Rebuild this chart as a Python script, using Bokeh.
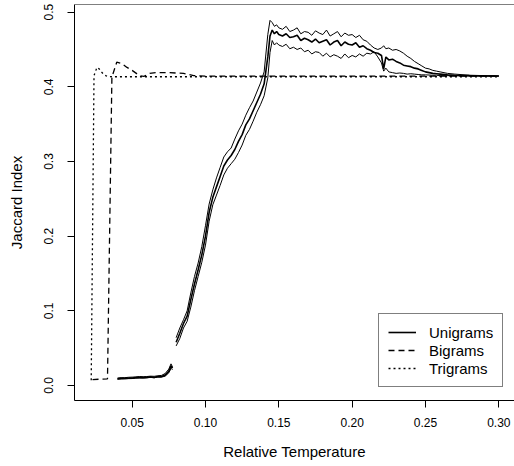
from bokeh.plotting import figure
from bokeh.models import Range1d, FixedTicker, NumeralTickFormatter, Span, Legend, LegendItem
from bokeh.embed import file_html
from bokeh.resources import INLINE

# ---------------- data ----------------
x_ticks = [0.05, 0.10, 0.15, 0.20, 0.25, 0.30]
y_ticks = [0.0, 0.1, 0.2, 0.3, 0.4, 0.5]

# Unigrams, low-temperature segment
uni1_x = [0.040, 0.0425, 0.045, 0.0475, 0.050, 0.0525, 0.055, 0.0575, 0.060,
          0.0625, 0.065, 0.0675, 0.070, 0.0725, 0.075, 0.0765, 0.0775]
uni1_mid = [0.009, 0.0095, 0.0095, 0.010, 0.010, 0.0105, 0.011, 0.0105, 0.011,
            0.0115, 0.011, 0.012, 0.012, 0.014, 0.019, 0.026, 0.023]
uni1_up = [0.0100, 0.0105, 0.0105, 0.011, 0.0112, 0.0115, 0.012, 0.0118, 0.012,
           0.0125, 0.0123, 0.013, 0.0135, 0.016, 0.022, 0.029, 0.025]
uni1_lo = [0.0085, 0.0088, 0.009, 0.0092, 0.0093, 0.0098, 0.0102, 0.0100, 0.0103,
           0.0108, 0.0104, 0.0112, 0.0112, 0.0125, 0.017, 0.023, 0.021]

# Unigrams, main segment
uni2_x = [0.080, 0.0825, 0.085, 0.0875, 0.090, 0.0925, 0.095, 0.0975, 0.100, 0.1025,
          0.105, 0.1075, 0.110, 0.1125, 0.115, 0.1175, 0.120, 0.1225, 0.125, 0.1275,
          0.130, 0.1325, 0.135, 0.1375, 0.140,
          0.1425, 0.144, 0.1455, 0.147, 0.1485,
          0.150, 0.1525, 0.155, 0.1575, 0.160, 0.1625, 0.165, 0.1675, 0.170, 0.1725,
          0.175, 0.1775, 0.180, 0.1825, 0.185, 0.1875, 0.190, 0.1925, 0.195, 0.1975,
          0.200, 0.2025, 0.205, 0.2075, 0.210, 0.2125, 0.215,
          0.2175, 0.220, 0.2215, 0.223, 0.225, 0.2275, 0.230,
          0.2325, 0.235, 0.2375, 0.240, 0.2425, 0.245, 0.2475, 0.250, 0.2525, 0.255,
          0.2575, 0.260, 0.265, 0.270, 0.280, 0.290, 0.300]
uni2_mid = [0.058, 0.070, 0.083, 0.093, 0.115, 0.136, 0.155, 0.175, 0.200, 0.232,
            0.252, 0.266, 0.280, 0.294, 0.302, 0.308, 0.316, 0.327, 0.336, 0.349,
            0.357, 0.368, 0.379, 0.390, 0.404,
            0.440, 0.468, 0.476, 0.471, 0.474,
            0.470, 0.468, 0.471, 0.466, 0.467, 0.469, 0.462, 0.465, 0.463, 0.460,
            0.464, 0.459, 0.461, 0.463, 0.456, 0.460, 0.462, 0.455, 0.460, 0.457,
            0.456, 0.459, 0.453, 0.455, 0.451, 0.449, 0.446,
            0.445, 0.442, 0.424, 0.440, 0.436, 0.437, 0.434,
            0.432, 0.429, 0.428, 0.427, 0.425, 0.424, 0.422, 0.420, 0.419, 0.418,
            0.4175, 0.417, 0.416, 0.4155, 0.415, 0.4147, 0.4145]
uni2_up = [0.064, 0.077, 0.088, 0.100, 0.124, 0.146, 0.164, 0.186, 0.214, 0.243,
           0.262, 0.278, 0.292, 0.306, 0.313, 0.318, 0.330, 0.341, 0.350, 0.362,
           0.372, 0.381, 0.393, 0.405, 0.420,
           0.470, 0.489, 0.486, 0.481, 0.483,
           0.479, 0.477, 0.481, 0.474, 0.476, 0.479, 0.471, 0.474, 0.473, 0.469,
           0.475, 0.472, 0.470, 0.476, 0.468, 0.471, 0.474, 0.467, 0.472, 0.469,
           0.470, 0.466, 0.469, 0.463, 0.461, 0.456, 0.452,
           0.450, 0.452, 0.455, 0.451, 0.452, 0.449, 0.450,
           0.448, 0.445, 0.441, 0.438, 0.434, 0.431, 0.428, 0.425, 0.424, 0.422,
           0.421, 0.420, 0.418, 0.417, 0.4155, 0.415, 0.4145]
uni2_lo = [0.053, 0.063, 0.077, 0.086, 0.105, 0.127, 0.146, 0.165, 0.188, 0.220,
           0.242, 0.255, 0.268, 0.282, 0.291, 0.297, 0.303, 0.312, 0.322, 0.335,
           0.343, 0.354, 0.366, 0.376, 0.388,
           0.412, 0.446, 0.462, 0.456, 0.459,
           0.456, 0.454, 0.457, 0.451, 0.453, 0.450, 0.452, 0.447, 0.449, 0.444,
           0.447, 0.446, 0.441, 0.445, 0.440, 0.443, 0.441, 0.438, 0.444, 0.439,
           0.442, 0.440, 0.444, 0.441, 0.445, 0.444, 0.447,
           0.440, 0.432, 0.421, 0.425, 0.420, 0.419, 0.418,
           0.4185, 0.418, 0.417, 0.4175, 0.417, 0.4165, 0.416, 0.416, 0.4158, 0.4155,
           0.4155, 0.415, 0.415, 0.4148, 0.4146, 0.4145, 0.4144]

# Bigrams
bi_x = [0.023, 0.0332, 0.0362, 0.0395, 0.043, 0.0465, 0.050, 0.055, 0.058, 0.062,
        0.066, 0.075, 0.085, 0.092, 0.100, 0.150, 0.200, 0.250, 0.300]
bi_y = [0.008, 0.009, 0.413, 0.433, 0.431, 0.426, 0.422, 0.415, 0.414, 0.418,
        0.419, 0.419, 0.418, 0.415, 0.4142, 0.4142, 0.4142, 0.4142, 0.4142]

# Trigrams
tri_x = [0.0221, 0.0240, 0.0260, 0.0275, 0.029, 0.031, 0.033, 0.036, 0.100, 0.200, 0.300]
tri_y = [0.007, 0.415, 0.426, 0.424, 0.420, 0.416, 0.414, 0.4135, 0.4135, 0.4135, 0.4135]

# ---------------- figure ----------------
FONT = "Liberation Sans"
Y_TOP = 0.51024

p = figure(width=514, height=466,
           x_range=Range1d(0.0107, 0.3107), y_range=Range1d(-0.02009, Y_TOP),
           output_backend="svg", toolbar_location=None,
           min_border_left=74, min_border_right=0, min_border_top=4, min_border_bottom=66)
p.xgrid.visible = False
p.ygrid.visible = False
p.outline_line_color = None
p.background_fill_color = "white"
p.border_fill_color = "white"

for ax in (p.xaxis[0], p.yaxis[0]):
    ax.axis_line_color = "black"
    ax.axis_line_width = 1
    ax.major_tick_line_color = "black"
    ax.major_tick_in = 0
    ax.major_tick_out = 7
    ax.minor_tick_line_color = None
    ax.major_label_text_font = FONT
    ax.major_label_text_font_size = "12px"
    ax.major_label_text_color = "black"
    ax.axis_label_text_font = FONT
    ax.axis_label_text_font_size = "15px"
    ax.axis_label_text_font_style = "normal"
    ax.axis_label_text_color = "black"

p.xaxis.ticker = FixedTicker(ticks=x_ticks)
p.xaxis.formatter = NumeralTickFormatter(format="0.00")
p.xaxis.axis_label = "Relative Temperature"
p.xaxis.major_label_standoff = 10
p.xaxis.axis_label_standoff = 13

p.yaxis.ticker = FixedTicker(ticks=y_ticks)
p.yaxis.formatter = NumeralTickFormatter(format="0.0")
p.yaxis.axis_label = "Jaccard Index"
p.yaxis.major_label_orientation = "vertical"
p.yaxis.major_label_standoff = 14
p.yaxis.axis_label_standoff = 17

p.add_layout(Span(location=Y_TOP, dimension="width", line_color="black", line_width=1))

# unigram lines
p.line(uni1_x, uni1_up, line_color="black", line_width=1)
p.line(uni1_x, uni1_lo, line_color="black", line_width=1)
p.line(uni1_x, uni1_mid, line_color="black", line_width=1.8)
p.line(uni2_x, uni2_up, line_color="black", line_width=1)
p.line(uni2_x, uni2_lo, line_color="black", line_width=1)
r_uni = p.line(uni2_x, uni2_mid, line_color="black", line_width=1.6)

r_bi = p.line(bi_x, bi_y, line_color="black", line_width=1.3, line_dash="6 4")
r_tri = p.line(tri_x, tri_y, line_color="black", line_width=1.3, line_dash="2 3")

legend = Legend(items=[LegendItem(label="Unigrams", renderers=[r_uni]),
                       LegendItem(label="Bigrams", renderers=[r_bi]),
                       LegendItem(label="Trigrams", renderers=[r_tri])],
                location=(304, 13))
legend.margin = 0
legend.padding = 9
legend.spacing = 0
legend.label_standoff = 13
legend.glyph_width = 28
legend.glyph_height = 18
legend.label_height = 18
legend.label_text_font = FONT
legend.label_text_font_size = "15px"
legend.label_text_color = "black"
legend.border_line_color = "black"
legend.border_line_width = 1
legend.background_fill_color = "white"
legend.background_fill_alpha = 1
p.add_layout(legend)

open("out.html", "w").write(file_html(p, INLINE))
